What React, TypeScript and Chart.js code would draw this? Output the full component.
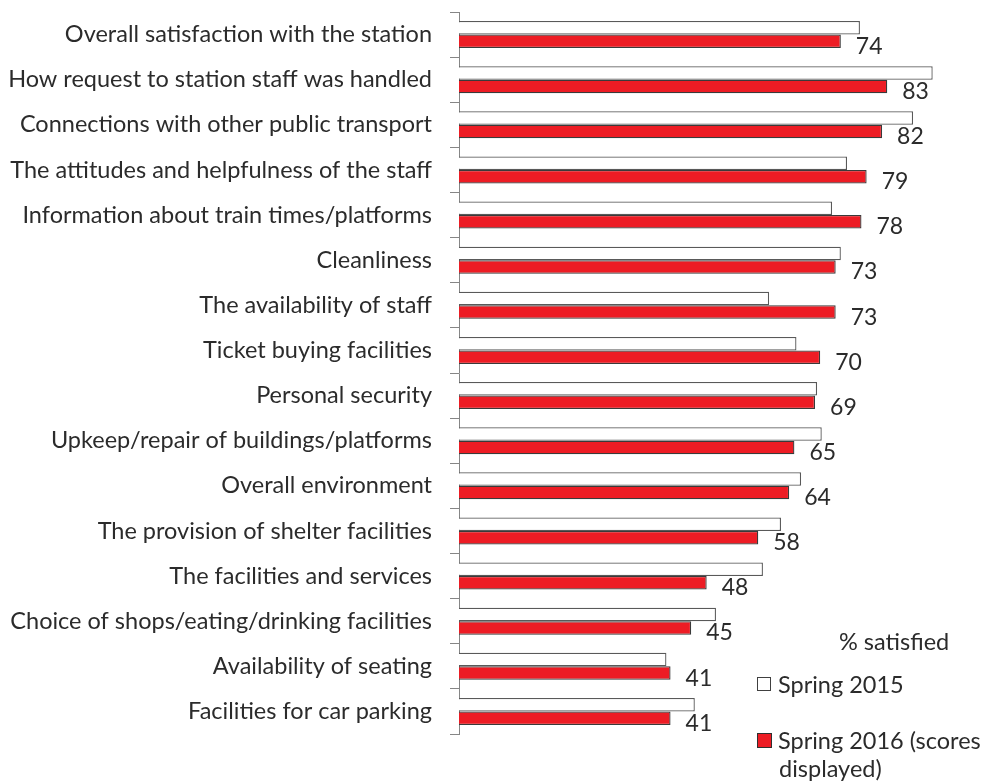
import React, { useEffect, useRef } from "react";
import { Chart, registerables } from "chart.js";

Chart.register(...registerables);

const categories = [
  "Overall satisfaction with the station",
  "How request to station staff was handled",
  "Connections with other public transport",
  "The attitudes and helpfulness of the staff",
  "Information about train times/platforms",
  "Cleanliness",
  "The availability of staff",
  "Ticket buying facilities",
  "Personal security",
  "Upkeep/repair of buildings/platforms",
  "Overall environment",
  "The provision of shelter facilities",
  "The facilities and services",
  "Choice of shops/eating/drinking facilities",
  "Availability of seating",
  "Facilities for car parking",
];

const spring2015 = [77.7, 91.8, 88.0, 75.2, 72.3, 74.0, 60.1, 65.4, 69.4, 70.3, 66.3, 62.4, 58.9, 49.8, 40.2, 45.7];
const spring2016 = [74, 83, 82, 79, 78, 73, 73, 70, 69, 65, 64, 58, 48, 45, 41, 41];

const seriesNames = ["Spring 2015", "Spring 2016 (scores", "displayed)"];
const legendTitle = "% satisfied";

const FONT = "Lato";
const TEXT = "#2b2b2b";
const RED = "#ED1C24";

const valueLabels = {
  id: "valueLabels",
  afterDatasetsDraw(chart: any) {
    const ctx = chart.ctx;
    const meta = chart.getDatasetMeta(1);
    ctx.save();
    ctx.font = `23px ${FONT}`;
    ctx.fillStyle = TEXT;
    ctx.textAlign = "left";
    ctx.textBaseline = "middle";
    meta.data.forEach((el: any, i: number) => {
      ctx.fillText(String(spring2016[i]), el.x + 15, el.y + 5);
    });
    ctx.restore();
  },
};

const customLegend = {
  id: "customLegend",
  afterDraw(chart: any) {
    const ctx = chart.ctx;
    ctx.save();
    ctx.font = `23.5px ${FONT}`;
    ctx.fillStyle = TEXT;
    ctx.textAlign = "left";
    ctx.textBaseline = "middle";
    ctx.fillText(legendTitle, 839, 642);
    ctx.fillStyle = "#ffffff";
    ctx.strokeStyle = "#404040";
    ctx.lineWidth = 1;
    ctx.fillRect(757.5, 677.5, 13, 13);
    ctx.strokeRect(757.5, 677.5, 13, 13);
    ctx.fillStyle = TEXT;
    ctx.fillText(seriesNames[0], 778, 685);
    ctx.fillStyle = RED;
    ctx.fillRect(757.5, 733.5, 14, 14);
    ctx.strokeStyle = "#303030";
    ctx.strokeRect(757.5, 733.5, 14, 14);
    ctx.fillStyle = TEXT;
    ctx.fillText(seriesNames[1], 778, 741);
    ctx.fillText(seriesNames[2], 779, 769);
    ctx.restore();
  },
};

export default function App() {
  const ref = useRef<HTMLCanvasElement | null>(null);
  useEffect(() => {
    if (!ref.current) return;
    const chart = new Chart(ref.current, {
      type: "bar",
      data: {
        labels: categories,
        datasets: [
          {
            label: "Spring 2015",
            data: spring2015,
            backgroundColor: "#ffffff",
            borderColor: "#595959",
            borderWidth: 1.3,
            categoryPercentage: 0.6,
            barPercentage: 1,
          },
          {
            label: "Spring 2016",
            data: spring2016,
            backgroundColor: RED,
            borderColor: "#3a3a3a",
            borderWidth: 1.3,
            categoryPercentage: 0.6,
            barPercentage: 1,
          },
        ],
      },
      options: {
        indexAxis: "y",
        animation: false,
        responsive: true,
        maintainAspectRatio: false,
        layout: { padding: { top: 12, right: 9, bottom: 49, left: 0 } },
        plugins: { legend: { display: false }, tooltip: { enabled: false } },
        scales: {
          x: { display: false, min: 0, max: 100 },
          y: {
            afterFit(scale: any) {
              scale.width = 459;
              scale.paddingTop = 0;
              scale.paddingBottom = 0;
            },
            grid: { offset: true, drawOnChartArea: false, tickLength: 9, color: "#868686" },
            border: { color: "#868686" },
            ticks: { padding: 18, color: TEXT, font: { family: FONT, size: 23.5 } },
          },
        },
      },
      plugins: [valueLabels, customLegend],
    });
    return () => chart.destroy();
  }, []);
  return (
    <div style={{ position: "absolute", left: 0, top: 0, width: 984, height: 783, background: "#fff" }}>
      <canvas ref={ref} />
    </div>
  );
}
